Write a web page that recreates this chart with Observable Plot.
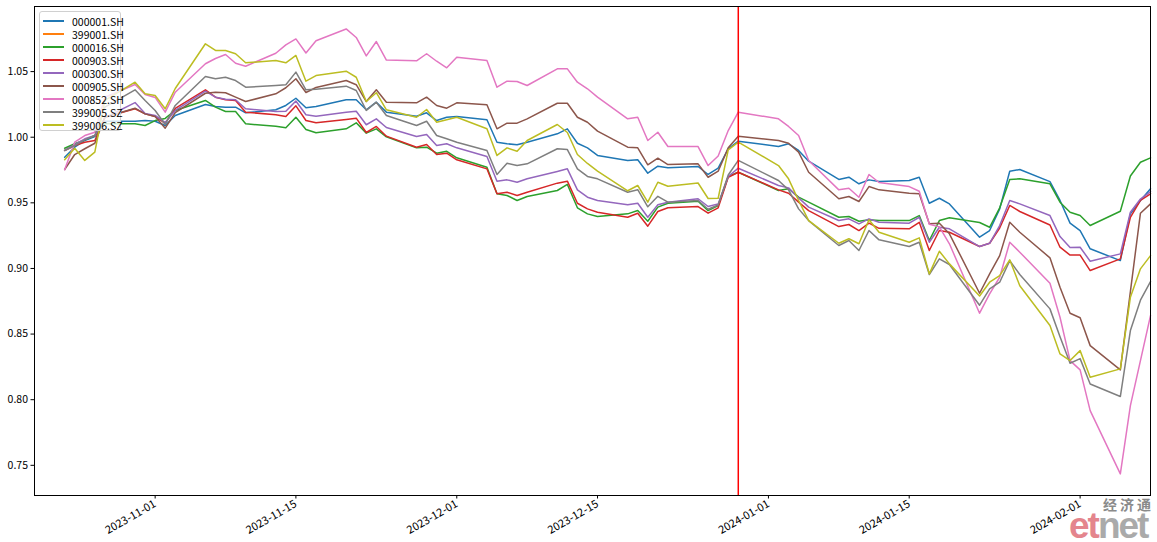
<!DOCTYPE html>
<html>
<head>
<meta charset="utf-8">
<script src="https://cdn.jsdelivr.net/npm/d3@7"></script>
<script src="https://cdn.jsdelivr.net/npm/@observablehq/plot@0.6"></script>
<style>
  body { margin: 0; background: #fff; }
  #wrap { position: relative; width: 1157px; height: 542px; overflow: hidden; font-family: "Noto Sans CJK SC", "DejaVu Sans", sans-serif; }
  #wrap svg { position: absolute; left: 0; top: 0; }
  #legend { position: absolute; left: 39px; top: 11px; width: 82px; height: 120px; box-sizing: border-box;
            border: 1px solid #d0d0d0; border-radius: 3px; background: rgba(255,255,255,0.8); }
  .row { position: absolute; left: 0; height: 13px; width: 80px; }
  .sw { position: absolute; left: 3px; top: 5.5px; width: 21px; height: 2px; }
  .lb { position: absolute; left: 32px; top: 0; font-size: 10.5px; line-height: 13px; color: #000; white-space: nowrap; }
  #wm1 { position: absolute; left: 1103px; top: 497px; font-size: 14px; letter-spacing: 3px; color: #8a8a8a; font-weight: bold; white-space: nowrap; line-height: 14px; }
  #wm2 { position: absolute; left: 1069px; top: 512px; font-size: 37px; line-height: 28px; height: 28px; font-weight: bold; font-family: "Liberation Sans", "DejaVu Sans", sans-serif; letter-spacing: -2px; opacity: 0.85; white-space: nowrap; }
</style>
</head>
<body>
<div id="wrap"></div>
<script>
// ---- data ----
const dates = [
  "2023-10-23","2023-10-24","2023-10-25","2023-10-26","2023-10-27","2023-10-30","2023-10-31","2023-11-01","2023-11-02","2023-11-03",
  "2023-11-06","2023-11-07","2023-11-08","2023-11-09","2023-11-10","2023-11-13","2023-11-14","2023-11-15","2023-11-16","2023-11-17",
  "2023-11-20","2023-11-21","2023-11-22","2023-11-23","2023-11-24","2023-11-27","2023-11-28","2023-11-29","2023-11-30","2023-12-01",
  "2023-12-04","2023-12-05","2023-12-06","2023-12-07","2023-12-08","2023-12-11","2023-12-12","2023-12-13","2023-12-14","2023-12-15",
  "2023-12-18","2023-12-19","2023-12-20","2023-12-21","2023-12-22","2023-12-25","2023-12-26","2023-12-27","2023-12-28","2023-12-29",
  "2024-01-02","2024-01-03","2024-01-04","2024-01-05","2024-01-08","2024-01-09","2024-01-10","2024-01-11","2024-01-12","2024-01-15",
  "2024-01-16","2024-01-17","2024-01-18","2024-01-19","2024-01-22","2024-01-23","2024-01-24","2024-01-25","2024-01-26","2024-01-29",
  "2024-01-30","2024-01-31","2024-02-01","2024-02-02","2024-02-05","2024-02-06","2024-02-07","2024-02-08"
];

const s000001 = [0.9848,0.9924,0.9975,1.0005,1.0122,1.0122,1.0127,1.0122,1.0089,1.0166,
 1.0249,1.0234,1.0229,1.0229,1.0186,1.0209,1.0242,1.0297,1.0224,1.0234,
 1.0285,1.0285,1.0209,1.0267,1.0191,1.0160,1.0186,1.0127,1.0152,1.0158,
 1.0133,0.9962,0.9950,0.9942,0.9962,1.0026,1.0064,0.9954,0.9919,0.9861,
 0.9823,0.9828,0.9726,0.9779,0.9767,0.9777,0.9716,0.9764,0.9912,0.9970,
 0.9929,0.9950,0.9899,0.9817,0.9678,0.9695,0.9645,0.9675,0.9662,0.9670,
 0.9695,0.9497,0.9535,0.9492,0.9238,0.9289,0.9454,0.9741,0.9754,0.9662,
 0.9518,0.9345,0.9289,0.9150,0.9060,0.9416,0.9518,0.9607];

const s399001 = []; // no values appear in the chart (legend entry only)

const s000016 = [0.9916,0.9950,0.9980,1.0013,1.0102,1.0102,1.0089,1.0127,1.0143,1.0204,
 1.0280,1.0229,1.0196,1.0196,1.0102,1.0084,1.0072,1.0152,1.0059,1.0034,
 1.0064,1.0110,1.0031,1.0064,1.0003,0.9919,0.9924,0.9878,0.9893,0.9843,
 0.9771,0.9569,0.9556,0.9518,0.9548,0.9594,0.9640,0.9462,0.9416,0.9396,
 0.9416,0.9441,0.9360,0.9467,0.9497,0.9512,0.9441,0.9480,0.9701,0.9733,
 0.9594,0.9607,0.9543,0.9505,0.9390,0.9396,0.9360,0.9371,0.9365,0.9365,
 0.9403,0.9213,0.9365,0.9386,0.9350,0.9314,0.9462,0.9678,0.9683,0.9645,
 0.9505,0.9428,0.9403,0.9327,0.9436,0.9704,0.9809,0.9843];

const s000903 = [0.9899,0.9937,0.9962,0.9975,1.0152,1.0217,1.0178,1.0158,1.0105,1.0219,
 1.0361,1.0305,1.0285,1.0280,1.0191,1.0171,1.0158,1.0239,1.0127,1.0110,
 1.0135,1.0145,1.0036,1.0082,1.0008,0.9924,0.9944,0.9868,0.9878,0.9828,
 0.9759,0.9569,0.9581,0.9556,0.9581,0.9650,0.9665,0.9497,0.9454,0.9428,
 0.9390,0.9421,0.9322,0.9434,0.9462,0.9472,0.9421,0.9462,0.9695,0.9733,
 0.9599,0.9573,0.9505,0.9441,0.9319,0.9335,0.9289,0.9345,0.9306,0.9302,
 0.9352,0.9137,0.9289,0.9276,0.9167,0.9192,0.9308,0.9480,0.9434,0.9331,
 0.9162,0.9102,0.9102,0.8984,0.9073,0.9390,0.9518,0.9569];

const s000300 = [0.9899,0.9944,0.9988,1.0013,1.0148,1.0264,1.0181,1.0166,1.0112,1.0204,
 1.0351,1.0305,1.0290,1.0285,1.0217,1.0196,1.0198,1.0276,1.0171,1.0160,
 1.0191,1.0198,1.0095,1.0140,1.0074,1.0005,1.0021,0.9937,0.9950,0.9919,
 0.9853,0.9665,0.9675,0.9657,0.9683,0.9739,0.9759,0.9599,0.9543,0.9518,
 0.9485,0.9497,0.9390,0.9485,0.9505,0.9531,0.9472,0.9492,0.9701,0.9764,
 0.9632,0.9614,0.9538,0.9467,0.9365,0.9378,0.9340,0.9378,0.9352,0.9345,
 0.9390,0.9200,0.9314,0.9302,0.9167,0.9192,0.9327,0.9518,0.9492,0.9403,
 0.9243,0.9159,0.9162,0.9055,0.9111,0.9428,0.9529,0.9586];

const s000905 = [0.9754,0.9868,0.9912,0.9954,1.0152,1.0221,1.0178,1.0158,1.0069,1.0188,
 1.0335,1.0343,1.0339,1.0305,1.0272,1.0331,1.0377,1.0445,1.0341,1.0379,
 1.0432,1.0400,1.0272,1.0361,1.0267,1.0262,1.0305,1.0242,1.0221,1.0262,
 1.0247,1.0064,1.0107,1.0107,1.0140,1.0259,1.0259,1.0152,1.0114,1.0046,
 0.9924,0.9919,0.9790,0.9840,0.9792,0.9797,0.9695,0.9741,0.9919,1.0008,
 0.9975,0.9954,0.9886,0.9733,0.9531,0.9548,0.9510,0.9624,0.9599,0.9573,
 0.9569,0.9340,0.9345,0.9264,0.8811,0.8959,0.9098,0.9352,0.9276,0.9081,
 0.8857,0.8659,0.8624,0.8412,0.8227,0.8824,0.9421,0.9492];

const s000852 = [0.9752,0.9962,1.0013,1.0038,1.0305,1.0402,1.0326,1.0303,1.0191,1.0343,
 1.0560,1.0600,1.0630,1.0564,1.0541,1.0640,1.0704,1.0749,1.0642,1.0735,
 1.0825,1.0760,1.0620,1.0729,1.0588,1.0582,1.0636,1.0579,1.0529,1.0610,
 1.0585,1.0381,1.0427,1.0425,1.0394,1.0521,1.0521,1.0419,1.0369,1.0305,
 1.0140,1.0152,0.9975,1.0038,0.9929,0.9929,0.9784,0.9857,1.0051,1.0191,
 1.0140,1.0082,1.0013,0.9823,0.9599,0.9611,0.9543,0.9716,0.9655,0.9624,
 0.9588,0.9337,0.9317,0.9188,0.8659,0.8806,0.8933,0.9200,0.9124,0.8887,
 0.8628,0.8298,0.8227,0.7917,0.7435,0.7955,0.8298,0.8641];

const s399005 = [0.9899,0.9937,0.9980,1.0013,1.0229,1.0361,1.0280,1.0204,1.0097,1.0242,
 1.0463,1.0445,1.0457,1.0432,1.0381,1.0394,1.0400,1.0496,1.0361,1.0365,
 1.0389,1.0356,1.0204,1.0267,1.0166,1.0089,1.0122,1.0013,0.9988,0.9962,
 0.9899,0.9716,0.9802,0.9784,0.9797,0.9912,0.9906,0.9759,0.9701,0.9683,
 0.9581,0.9600,0.9470,0.9550,0.9505,0.9518,0.9451,0.9483,0.9712,0.9823,
 0.9670,0.9599,0.9454,0.9365,0.9175,0.9213,0.9137,0.9289,0.9218,0.9167,
 0.9200,0.8954,0.9073,0.9030,0.8720,0.8845,0.8895,0.9060,0.8954,0.8692,
 0.8479,0.8278,0.8313,0.8120,0.8024,0.8527,0.8758,0.8900];

const s399006 = [0.9828,0.9916,0.9823,0.9886,1.0280,1.0419,1.0331,1.0318,1.0217,1.0371,
 1.0712,1.0661,1.0661,1.0636,1.0567,1.0585,1.0567,1.0623,1.0427,1.0470,
 1.0503,1.0457,1.0272,1.0339,1.0209,1.0152,1.0211,1.0114,1.0133,1.0152,
 1.0064,0.9861,0.9919,0.9893,0.9975,1.0097,1.0036,0.9868,0.9800,0.9742,
 0.9592,0.9632,0.9505,0.9657,0.9626,0.9651,0.9533,0.9535,0.9904,0.9962,
 0.9784,0.9683,0.9518,0.9365,0.9192,0.9226,0.9188,0.9371,0.9276,0.9200,
 0.9233,0.8959,0.9131,0.9035,0.8790,0.8895,0.8946,0.9066,0.8868,0.8565,
 0.8349,0.8298,0.8374,0.8171,0.8235,0.8781,0.8997,0.9098];

const seriesNames = ["000001.SH","399001.SH","000016.SH","000903.SH","000300.SH","000905.SH","000852.SH","399005.SZ","399006.SZ"];
const seriesValues = [s000001, s399001, s000016, s000903, s000300, s000905, s000852, s399005, s399006];
const markerDate = "2023-12-29";
const xTickLabels = ["2023-11-01","2023-11-15","2023-12-01","2023-12-15","2024-01-01","2024-01-15","2024-02-01"];
const yTickValues = [0.75, 0.80, 0.85, 0.90, 0.95, 1.00, 1.05];

// ---- styles ----
const palette = ["#1f77b4","#ff7f0e","#2ca02c","#d62728","#9467bd","#8c564b","#e377c2","#7f7f7f","#bcbd22"];

const parse = d3.utcParse("%Y-%m-%d");
const rows = [];
seriesNames.forEach((name, k) => {
  seriesValues[k].forEach((v, i) => { if (v != null) rows.push({date: parse(dates[i]), value: v, name}); });
});

const chart = Plot.plot({
  width: 1157, height: 542,
  marginLeft: 34, marginRight: 7, marginTop: 6, marginBottom: 47,
  style: {fontFamily: '"Noto Sans CJK SC", "DejaVu Sans", sans-serif', fontSize: "10.5px", color: "#000", background: "transparent", overflow: "visible"},
  x: {type: "utc", domain: [parse("2023-10-20"), parse("2024-02-08")]},
  y: {domain: [0.7270, 1.0996]},
  color: {domain: seriesNames, range: palette},
  marks: [
    Plot.line(rows, {x: "date", y: "value", z: "name", stroke: "name", strokeWidth: 1.5}),
    Plot.ruleX([parse(markerDate)], {stroke: "#ff0000", strokeWidth: 1.5}),
    Plot.frame({stroke: "#000", strokeWidth: 1}),
    Plot.axisY({ticks: yTickValues, tickFormat: d3.format(".2f"), tickSize: 3.5, tickPadding: 3, label: null}),
    Plot.axisX({ticks: xTickLabels.map(parse), tickFormat: d3.utcFormat("%Y-%m-%d"), tickSize: 3.5, tickPadding: 4, tickRotate: -30, fontSize: 11, label: null})
  ]
});

const wrap = document.getElementById("wrap");
wrap.appendChild(chart);

// legend (inside axes, upper left)
const legend = document.createElement("div");
legend.id = "legend";
seriesNames.forEach((name, k) => {
  const row = document.createElement("div");
  row.className = "row";
  row.style.top = (2.5 + 13 * k) + "px";
  const sw = document.createElement("div");
  sw.className = "sw";
  sw.style.background = palette[k];
  const lb = document.createElement("div");
  lb.className = "lb";
  lb.textContent = name;
  row.appendChild(sw); row.appendChild(lb);
  legend.appendChild(row);
});
wrap.appendChild(legend);

// watermark
const wm1 = document.createElement("div");
wm1.id = "wm1"; wm1.textContent = "经济通";
wrap.appendChild(wm1);
const wm2 = document.createElement("div");
wm2.id = "wm2";
wm2.innerHTML = '<span style="color:#e0707a">et</span><span style="color:#9c9c9c">net</span>';
wrap.appendChild(wm2);
</script>
</body>
</html>
